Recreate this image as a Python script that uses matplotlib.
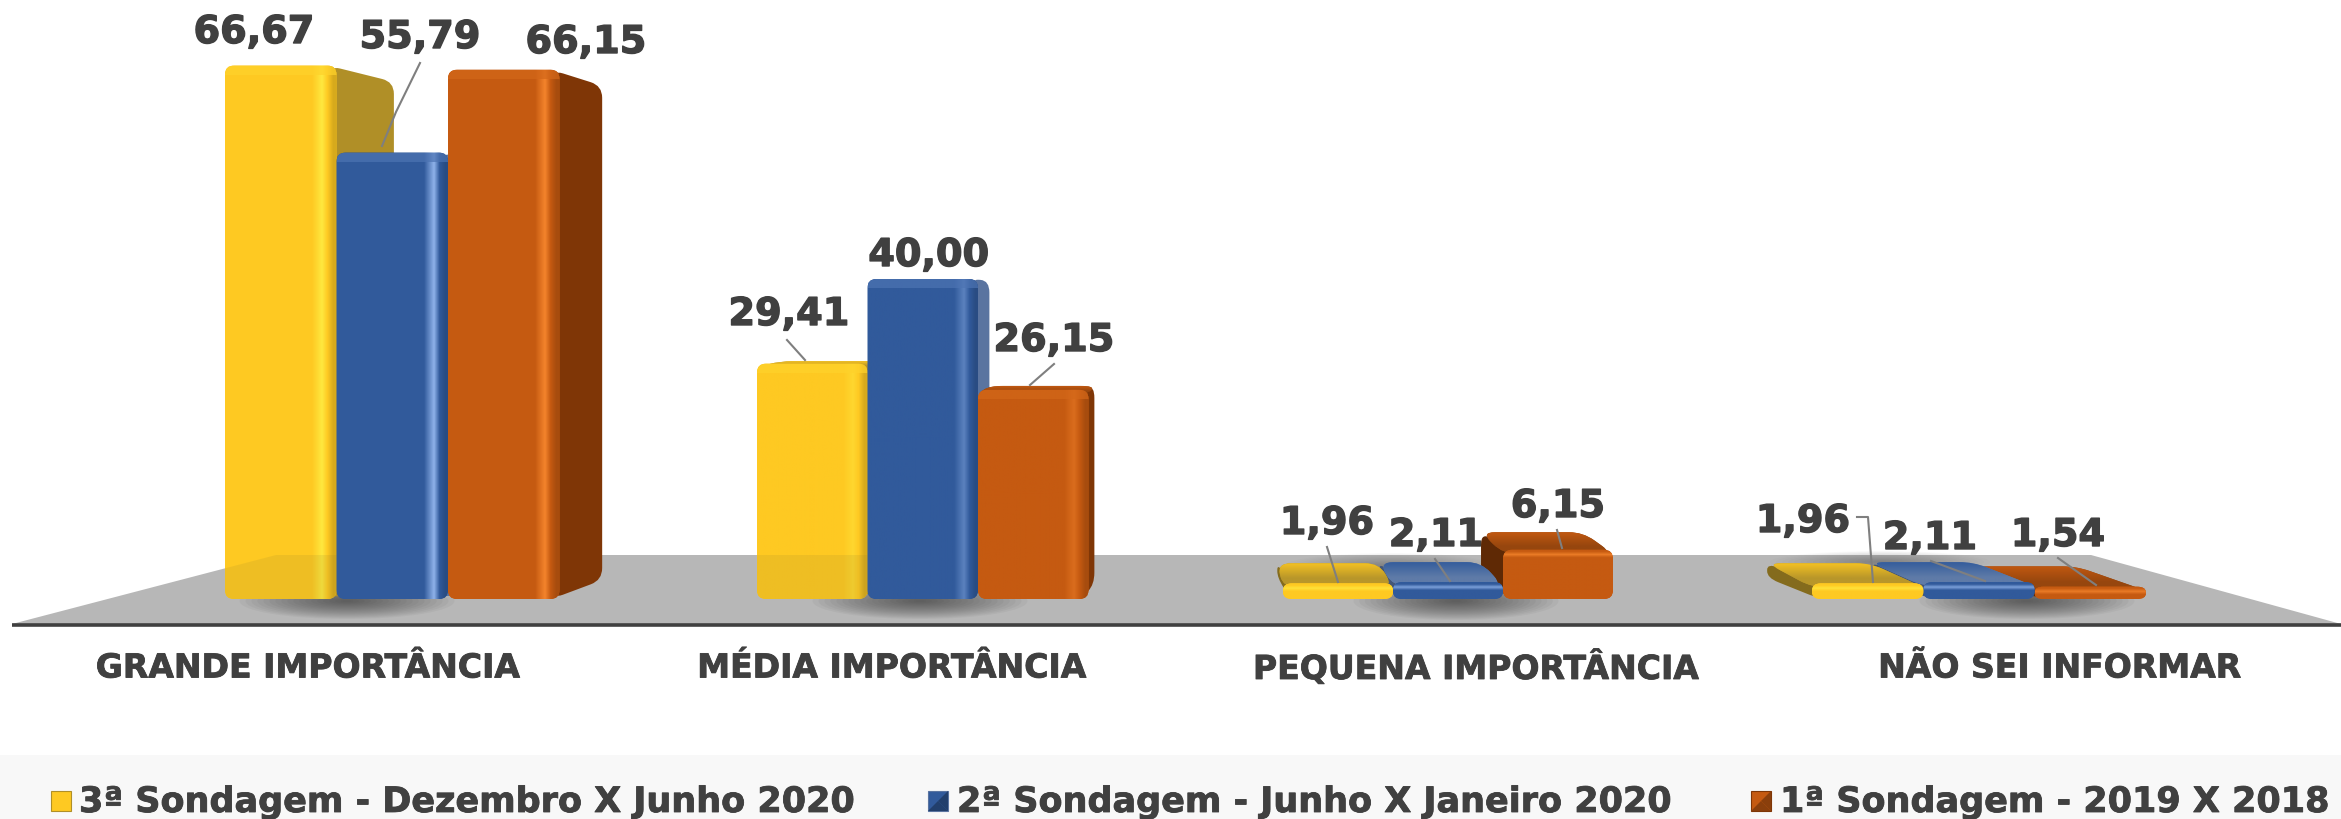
import numpy as np
import matplotlib
matplotlib.use('Agg')
import matplotlib.pyplot as plt
import matplotlib.patheffects as pe
from matplotlib.colors import to_rgb
from matplotlib.patches import Ellipse, PathPatch, Polygon, Rectangle
from matplotlib.path import Path

categories = ['GRANDE IMPORTÂNCIA', 'MÉDIA IMPORTÂNCIA', 'PEQUENA IMPORTÂNCIA', 'NÃO SEI INFORMAR']
sondagem3 = [66.67, 29.41, 1.96, 1.96]
sondagem2 = [55.79, 40.00, 2.11, 2.11]
sondagem1 = [66.15, 26.15, 6.15, 1.54]
series_names = ['3ª Sondagem - Dezembro X Junho 2020',
                '2ª Sondagem - Junho X Janeiro 2020',
                '1ª Sondagem - 2019 X 2018']

W, H = 2341, 819
BASE = 599      # pixel row of value 0
PX = 8.0        # pixels per unit
VP_X, VP_Y = 1206, 312   # vanishing point of the 3d look

# estilos: frente, brilho, lateral, topo
yellow = ('#fec922', '#ffe83f', '#b08f27', '#b8962a')
blue = ('#315a9b', '#8fb2ea', '#5a74a0', '#5f7ba8')
orange = ('#c55a11', '#f4842c', '#7f3606', '#96460e')
styles = [yellow, blue, orange]
text_color = '#404040'


def v(py):
    return (BASE - py) / PX


def back(x, val, depth):
    # ponto de tras da barra, indo para o ponto de fuga
    return x + depth * (VP_X - x), val + depth * (v(VP_Y) - val)


def rounded(points, r):
    # poligono com cantos arredondados, raio em pixels
    pts = [np.array([x, y * PX]) for x, y in points]
    verts, codes = [], []
    n = len(pts)
    for i in range(n):
        p, a, b = pts[i], pts[i - 1], pts[(i + 1) % n]
        d1 = a - p
        d2 = b - p
        r1 = min(r, np.hypot(*d1) * 0.45)
        r2 = min(r, np.hypot(*d2) * 0.45)
        p1 = p + d1 / np.hypot(*d1) * r1
        p2 = p + d2 / np.hypot(*d2) * r2
        verts.append(p1)
        codes.append(Path.MOVETO if i == 0 else Path.LINETO)
        verts += [p, p2]
        codes += [Path.CURVE3, Path.CURVE3]
    verts.append(verts[0])
    codes.append(Path.CLOSEPOLY)
    verts = [(q[0], q[1] / PX) for q in verts]
    return Path(verts, codes)


def mix(c1, c2, k):
    return tuple((1 - k) * a + k * b for a, b in zip(to_rgb(c1), to_rgb(c2)))


def draw_bar(ax, x0, width, val, style, z, depth, shine):
    front, high, side, top = style
    high = mix(front, high, shine)
    x1 = x0 + width
    if x1 <= VP_X:
        xs, xb = back(x1, 0, depth), back(x1, val, depth)
        pts = [(x1 - 8, 0), xs, xb, (x1 - 8, val)]
    else:
        xs, xb = back(x0, 0, depth), back(x0, val, depth)
        pts = [(x0 + 8, 0), xs, xb, (x0 + 8, val)]
        side = mix(side, '#000000', 0.25)
    ax.add_patch(PathPatch(rounded(pts, 12), fc=side, ec='none', zorder=z))

    # topo so aparece abaixo da linha do horizonte
    if val < v(VP_Y):
        bl, br = back(x0, val, depth), back(x1, val, depth)
        pts = [(x0, val - 0.5), bl, br, (x1, val - 0.5)]
        tp = PathPatch(rounded(pts, 14), fc=top, ec='none', zorder=z + 0.1)
        ax.add_patch(tp)
        u = np.linspace(0, 1, 24)
        c2 = mix(top, front, 0.9)
        rows = [np.interp(u, [0, 0.35, 1], [a, a, b]) for a, b in zip(to_rgb(top), c2)]
        img = np.dstack(rows).transpose(1, 0, 2)
        left = min(x0, bl[0])
        right = max(x1, br[0])
        im = ax.imshow(img, extent=(left, right, val - 0.5, bl[1]), aspect='auto',
                       zorder=z + 0.15, origin='lower')
        im.set_clip_path(tp)

    path = rounded([(x0, 0), (x0, val), (x1, val), (x1, 0)], 9)
    patch = PathPatch(path, fc=front, ec='none', zorder=z + 0.2)
    ax.add_patch(patch)
    h = val * PX
    if val > 10:
        u = np.linspace(0, 1, 112)
        edge = mix(front, '#000000', 0.15)
        rows = []
        for a, b, c in zip(to_rgb(front), to_rgb(high), edge):
            rows.append(np.interp(u, [0, 0.78, 0.87, 0.92, 0.97, 1], [a, a, b, a, c, c]))
        img = np.dstack(rows)
    else:
        u = np.linspace(0, 1, 60)
        rows = []
        for a, b in zip(to_rgb(front), to_rgb(high)):
            rows.append(np.interp(u, [0, 1 - 8 / h, 1 - 5 / h, 1 - 2 / h, 1], [a, a, b, a, a]))
        img = np.dstack(rows).transpose(1, 0, 2)
    im = ax.imshow(img, extent=(x0, x1, 0, val), aspect='auto', zorder=z + 0.3, origin='lower')
    im.set_clip_path(patch)
    if val > 10:
        # chanfro claro em cima
        strip = Rectangle((x0, val - 9 / PX), width, 9 / PX, fc=mix(front, style[1], 0.3), ec='none',
                          alpha=0.7, zorder=z + 0.35)
        ax.add_patch(strip)
        strip.set_clip_path(patch)
    return patch


fig = plt.figure(figsize=(W / 100, H / 100), dpi=100)
ax = fig.add_axes([0, 0, 1, 1])
ax.axis('off')

# faixa da legenda e piso
ax.add_patch(Rectangle((0, v(H)), W, v(755) - v(H), fc='#f8f8f8', ec='none', zorder=0))
floor_pts = [(12, v(624)), (276, v(555)), (2091, v(555)), (2341, v(624))]
ax.add_patch(Polygon(floor_pts, fc='#b7b7b7', ec='none', zorder=1))

# sombras: x, y, largura, altura, forca
shadows = [(347, 601, 215, 36, 0.042), (920, 601, 215, 36, 0.042),
           (1456, 601, 205, 38, 0.042), (2027, 601, 215, 36, 0.042),
           (1390, 566, 210, 26, 0.018), (1880, 562, 220, 22, 0.018)]
for sx, sy, sw, sh, sa in shadows:
    for k in range(18):
        f = 1 - k / 18
        ax.add_patch(Ellipse((sx, v(sy)), sw * f, sh * f / PX, fc='#222222', ec='none',
                             alpha=sa, zorder=1.5))

# barras
lefts = [225, 757, 1283, 1812]
widths = [111.5, 110.5, 110, 111.3]
depths = [0.066, 0.05, 0.074, 0.074]
shines = [1.0, 0.45, 0.8, 0.8]
series = [sondagem3, sondagem2, sondagem1]
for g, x in enumerate(lefts):
    bar_w = widths[g]
    order = [0, 1, 2] if x + 3 * bar_w <= VP_X else [2, 1, 0]
    for rank, s in enumerate(order):
        p = draw_bar(ax, x + s * bar_w, bar_w, series[s][g], styles[s], 2 + rank, depths[g], shines[g])
        if g < 2 and s == 0:
            # piso transparente por cima da barra amarela
            over = Polygon(floor_pts, fc='#8a7a30', ec='none', alpha=0.13, zorder=2.5)
            ax.add_patch(over)
            over.set_clip_path(p)

# linha do eixo
ax.plot([12, W], [v(625), v(625)], color='#404040', lw=2.6, zorder=6, solid_capstyle='butt')

# rotulos de valor
label_x = [254, 420, 586, 789, 929, 1054, 1327, 1436, 1558, 1803, 1930, 2058]
label_y = [33, 38, 43, 315, 256, 341, 524, 536, 507, 522, 539, 536]
vals = [sondagem3[0], sondagem2[0], sondagem1[0], sondagem3[1], sondagem2[1], sondagem1[1],
        sondagem3[2], sondagem2[2], sondagem1[2], sondagem3[3], sondagem2[3], sondagem1[3]]
bold = [pe.withStroke(linewidth=1.0, foreground=text_color)]
for lx, ly, val in zip(label_x, label_y, vals):
    ax.text(lx, v(ly), f'{val:.2f}'.replace('.', ','), ha='center', va='center', fontsize=27.5,
            fontweight='bold', color=text_color, family='DejaVu Sans', zorder=8, path_effects=bold)

# linhas de chamada
leaders = [[(420, 63), (396, 112), (382, 146)],
           [(787, 340), (805, 360)],
           [(1054, 364), (1030, 385)],
           [(1327, 547), (1338, 582)],
           [(1435, 559), (1450, 581)],
           [(1557, 530), (1562, 548)],
           [(1857, 517), (1868, 517), (1873, 582)],
           [(1931, 561), (1985, 581)],
           [(2058, 558), (2096, 585)]]
for line in leaders:
    ax.plot([q[0] for q in line], [v(q[1]) for q in line], color='#7f7f7f', lw=1.5, zorder=7)

# categorias
cat_x = [307, 891, 1475, 2059]
for cx, name in zip(cat_x, categories):
    ax.text(cx, v(668), name, ha='center', va='center', fontsize=23.8, fontweight='bold',
            color=text_color, family='DejaVu Sans', zorder=8,
            path_effects=[pe.withStroke(linewidth=0.6, foreground=text_color)])

# legenda
swatch_x = [51, 928, 1751]
legend_x = [79, 957, 1780]
for i, (sx, lx, name, st) in enumerate(zip(swatch_x, legend_x, series_names, styles)):
    ax.add_patch(Rectangle((sx, v(811)), 20, 20 / PX, fc=st[0], ec=st[2], lw=0.8, zorder=8))
    if i > 0:
        dark = mix(st[0], '#000000', 0.3)
        ax.add_patch(Polygon([(sx + 20, v(791)), (sx + 20, v(811)), (sx + 10, v(801))], fc=dark, ec='none', zorder=8.1))
        ax.add_patch(Polygon([(sx, v(811)), (sx + 20, v(811)), (sx + 10, v(801))], fc=dark, ec='none', zorder=8.1))
    ax.text(lx, v(802), name, ha='left', va='center', fontsize=25.2, fontweight='bold',
            color=text_color, family='DejaVu Sans', zorder=8,
            path_effects=[pe.withStroke(linewidth=0.6, foreground=text_color)])

ax.set_xlim(0, W)
ax.set_ylim(v(H), v(0))
fig.savefig('out.png', dpi=100)
